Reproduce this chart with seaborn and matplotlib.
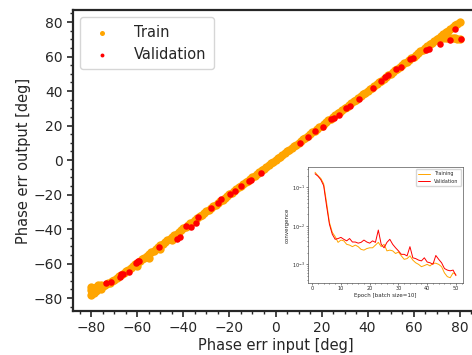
import matplotlib
matplotlib.use("Agg")
import matplotlib.pyplot as plt
import seaborn as sns
import pandas as pd
from matplotlib.ticker import AutoMinorLocator

sns.set_style("ticks")
plt.rcParams['font.family'] = ['DejaVu Sans']

# --- main scatter: phase error in vs out ---
train_x = [-80, -80, -80, -79, -79, -78, -78, -77, -77, -76, -76, -75, -74, -73, -72, -71, -70,
           -69, -68, -67, -66, -65, -64, -63, -62, -61, -60, -59, -58, -57, -56, -55, -54,
           -53, -52, -51, -50, -49, -48, -47, -46, -45, -44, -43, -42, -41, -40, -39, -38, -37,
           -36, -35, -34, -33, -32, -31, -30, -29, -28, -27, -26, -25, -24, -23, -22, -21,
           -20, -19, -18, -17, -16, -15, -14, -13, -12, -11, -10, -9, -8, -7, -6, -5, -4, -3,
           -2, -1, 0, 1, 2, 3, 4, 5, 6, 7, 8, 9, 10, 11, 12, 13, 14, 15, 16, 17, 18, 19,
           20, 21, 22, 23, 24, 25, 26, 27, 28, 29, 30, 31, 32, 33, 34, 35, 36, 37, 38, 39,
           40, 41, 42, 43, 44, 45, 46, 47, 48, 49, 50, 51, 52, 53, 54, 55, 56, 57, 58, 59,
           60, 61, 62, 63, 64, 65, 66, 67, 68, 69, 70, 71, 72, 73, 74, 75, 76, 77, 78, 79, 80,
           -60, -55, -50, -45, 73, 74, 75, 76, 77, 78, 79, 80]
train_y = [-78, -75.5, -73.5, -77, -74.5, -76, -73.5, -75, -72.5, -74.5, -72.5, -73, -72.5, -71.5, -71, -70, -69.5,
           -68.5, -67.5, -66.5, -65.5, -64.5, -63.5, -62.5, -61.5, -60.5, -59.5, -58.5, -57.5, -56.5, -55.5, -54.5, -53.5,
           -52.5, -51.5, -50.5, -49.5, -48.5, -47.5, -46.5, -45.5, -44.6, -43.6, -42.6, -41.6, -40.6, -39.6, -38.6, -37.6, -36.6,
           -35.7, -34.7, -33.7, -32.7, -31.7, -30.8, -29.8, -28.8, -27.8, -26.8, -25.8, -24.9, -23.9, -22.9, -21.9, -20.9,
           -19.9, -18.9, -17.9, -16.9, -15.9, -14.9, -13.9, -12.9, -12, -11, -10, -9, -8, -7, -6, -5, -4, -3,
           -2, -1, 0, 1, 2, 3, 4, 5, 6, 7, 8, 9, 10, 11, 12, 13, 14, 15, 16, 17, 18, 19,
           20, 21, 22, 23, 24, 25, 26, 27, 28, 29, 30, 31, 32, 33, 34, 35, 36, 37, 38, 39,
           40, 41, 42, 43, 44, 45, 46, 47, 48, 49, 50, 51, 52, 53, 54, 55, 56, 57, 58, 59,
           60, 61, 62, 63, 64, 65, 66, 67, 68, 69, 70, 71, 72, 73, 74, 75, 76, 77, 78, 79, 80,
           -61.5, -56.5, -51.5, -46.3, 70.5, 70.5, 70.5, 70.5, 70.5, 70.5, 70.2, 70]

val_x = [-73.5, -71.7, -67.7, -67, -66.3, -63.7, -60.8, -60.2, -59.8, -59.5, -50.8, -42.6, -41.6,
         -38.7, -36.6, -34.7, -33.7, -28, -25, -23.5, -19.9, -17.7, -14.8, -11.7, -10.8, -6.5,
         10.5, 14, 17, 20.6, 24, 25.6, 27.6, 30.8, 32.2, 36.5, 42.3, 46, 47.4, 48.8, 52.5,
         54.7, 58.3, 59.6, 65.5, 66.7, 71.7, 76, 77.8, 80.7]
val_y = [-71.5, -70.5, -68, -66.3, -66.1, -65.1, -59.9, -59, -58.6, -58.4, -50.3, -45.8, -44.5,
         -38.3, -39, -36.7, -33.2, -27.8, -25, -22.8, -19.7, -17.8, -14.9, -12.3, -11.6, -7.4,
         9.7, 13.5, 17, 19.1, 23.5, 24.3, 26.1, 30, 31.3, 35.4, 41.6, 46, 48, 49.5, 52.8,
         53.9, 58.4, 59.3, 63.8, 64.2, 67.4, 69.6, 75.9, 70]

ideal = [-80, 80]

# --- inset: convergence per epoch ---
epochs = list(range(1, 51))
loss_train = [0.245, 0.200, 0.170, 0.123, 0.0407, 0.0123, 0.00676, 0.00525, 0.00372, 0.00427,
              0.00407, 0.00331, 0.00316, 0.00288, 0.00316, 0.00288, 0.00245, 0.00234, 0.00257, 0.00269,
              0.00269, 0.00316, 0.00372, 0.00288, 0.00331, 0.00224, 0.00234, 0.00224, 0.00191, 0.00209,
              0.00166, 0.00135, 0.00141, 0.00166, 0.00129, 0.00110, 0.00100, 0.00087, 0.00093, 0.00100,
              0.00091, 0.00107, 0.00107, 0.00100, 0.00087, 0.00060, 0.00048, 0.00045, 0.00060, 0.00055]
loss_val = [0.224, 0.195, 0.158, 0.110, 0.0331, 0.0110, 0.00603, 0.00447, 0.00468, 0.00501,
            0.00447, 0.00407, 0.00468, 0.00380, 0.00380, 0.00355, 0.00372, 0.00427, 0.00380, 0.00355,
            0.00407, 0.00372, 0.00776, 0.00331, 0.00269, 0.00372, 0.00447, 0.00331, 0.00269, 0.00224,
            0.00182, 0.00182, 0.00166, 0.00288, 0.00148, 0.00141, 0.00129, 0.00123, 0.00148, 0.00115,
            0.00110, 0.00100, 0.00170, 0.00135, 0.00110, 0.00078, 0.00071, 0.00068, 0.00071, 0.00051]

fig = plt.figure(figsize=(4.72, 3.55), dpi=100)
ax = fig.add_axes([0.1547, 0.124, 0.858, 0.848])

# ideal line goes underneath the points, only the ends peek out
ax.plot(ideal, ideal, color='C0', lw=1.5, zorder=0.5)
sns.scatterplot(x=train_x, y=train_y, color='orange', s=36, linewidth=0, ax=ax, label='Train', zorder=1)
sns.scatterplot(x=val_x, y=val_y, color='red', s=22, linewidth=0, ax=ax, label='Validation', zorder=2)

ax.set_xlim(-88, 88)
ax.set_ylim(-87.5, 87)
ax.set_xticks(range(-80, 81, 20))
ax.set_yticks(range(-80, 81, 20))
ax.xaxis.set_minor_locator(AutoMinorLocator(4))
ax.yaxis.set_minor_locator(AutoMinorLocator(4))
ax.tick_params(which='major', labelsize=10, length=4, width=1.2)
ax.tick_params(which='minor', length=2, width=1)
for sp in ax.spines.values():
    sp.set_linewidth(1.6)
ax.set_xlabel('Phase err input [deg]', fontsize=10.5, labelpad=2)
ax.set_ylabel('Phase err output [deg]', fontsize=10.5, labelpad=2)
ax.legend(loc='upper left', fontsize=10.5, markerscale=0.6, handletextpad=1.2,
          borderpad=0.5, labelspacing=0.5)

# inset
ins = fig.add_axes([308 / 472, (355 - 283) / 355, 155 / 472, 116 / 355])
df = pd.DataFrame({'epoch': epochs + epochs,
                   'loss': loss_train + loss_val,
                   'set': ['Training'] * 50 + ['Validation'] * 50})
sns.lineplot(data=df, x='epoch', y='loss', hue='set', palette={'Training': 'orange', 'Validation': 'red'},
             lw=0.7, ax=ins)
ins.set_yscale('log')
ins.set_xticks(range(0, 51, 10))
ins.tick_params(which='both', labelsize=3.5, length=1.5, width=0.4, pad=1)
ins.tick_params(which='minor', length=1)
ins.xaxis.set_minor_locator(AutoMinorLocator(5))
for sp in ins.spines.values():
    sp.set_linewidth(0.5)
    sp.set_color('#555555')
ins.set_xlabel('Epoch [batch size=10]', fontsize=4, labelpad=1)
ins.set_ylabel('convergence', fontsize=4, labelpad=1)
ins.legend(loc='upper right', fontsize=3.5, title=None, handlelength=2.5, frameon=True)

fig.savefig('out.png', dpi=100)
